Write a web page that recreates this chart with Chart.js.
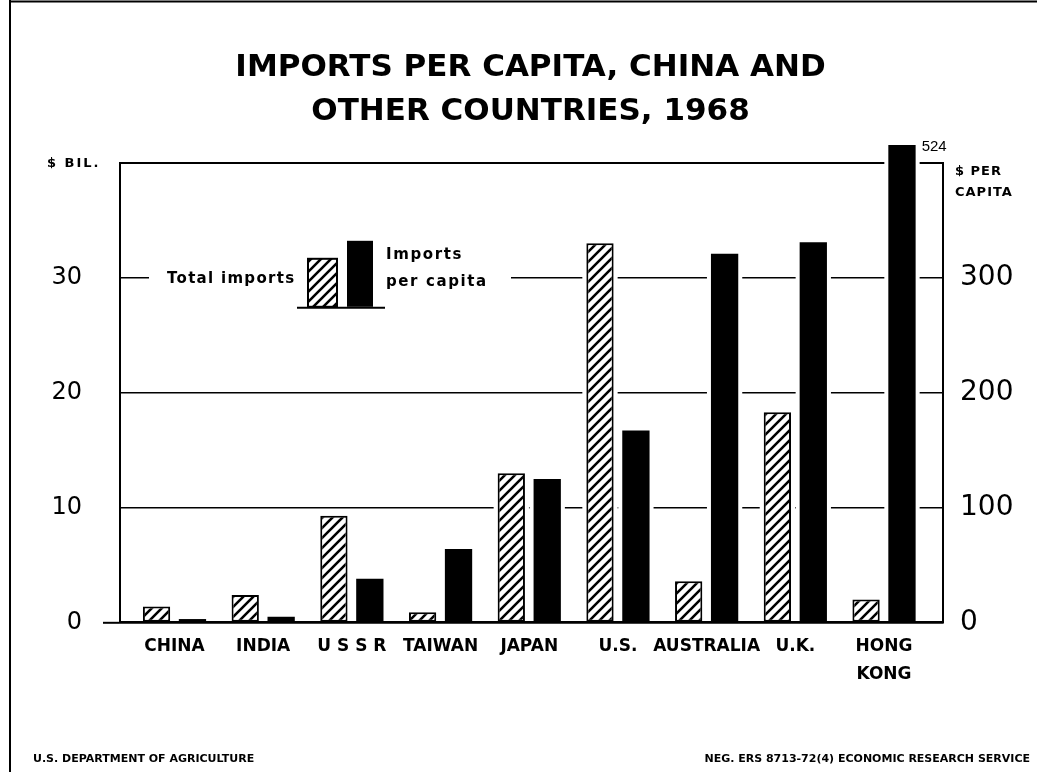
<!DOCTYPE html>
<html>
<head>
<meta charset="utf-8">
<title>Imports per capita, China and other countries, 1968</title>
<script src="https://cdn.jsdelivr.net/npm/chart.js@4.4.1/dist/chart.umd.min.js"></script>
<style>
  html, body { margin: 0; padding: 0; background: #fff; }
  canvas { display: block; }
</style>
</head>
<body>
<canvas id="myChart" width="1037" height="772"></canvas>
<script>

  //////////////////////////
 // DONNÉES DU GRAPHIQUE //
//////////////////////////

const countries = ['CHINA', 'INDIA', 'U S S R', 'TAIWAN', 'JAPAN', 'U.S.', 'AUSTRALIA', 'U.K.', ['HONG', 'KONG']];
const totalImports = [1.4, 2.4, 9.3, 0.9, 13.0, 33.0, 3.6, 18.3, 2.0];   // $ bil.
const importsPerCapita = [3, 5, 38, 64, 125, 167, 321, 331, 524];        // $ per capita
const leftTicks = [0, 10, 20, 30];
const rightTicks = [0, 100, 200, 300];

const FONT = 'DejaVu Sans';


  //////////////////////
 // MOTIF HACHURÉ    //
//////////////////////

const canvas = document.getElementById('myChart');
const ctx = canvas.getContext('2d');

function makeHatch() {
  const c = document.createElement('canvas');
  c.width = 10;
  c.height = 10;
  const g = c.getContext('2d');
  g.fillStyle = '#fff';
  g.fillRect(0, 0, 10, 10);
  g.strokeStyle = '#000';
  g.lineWidth = 2.6;
  g.beginPath();
  g.moveTo(-2, 12); g.lineTo(12, -2);
  g.moveTo(-7, 7); g.lineTo(7, -7);
  g.moveTo(3, 17); g.lineTo(17, 3);
  g.stroke();
  return ctx.createPattern(c, 'repeat');
}
const hatch = makeHatch();


  /////////////////////////
 // PLUGINS (DESSINS)   //
/////////////////////////

// blanc autour des barres : coupe les lignes de grille comme sur l'original
const barGaps = {
  id: 'barGaps',
  beforeDatasetsDraw(chart) {
    const area = chart.chartArea;
    const c = chart.ctx;
    c.save();
    c.fillStyle = '#fff';
    chart.data.datasets.forEach((ds, i) => {
      chart.getDatasetMeta(i).data.forEach(bar => {
        const top = Math.max(bar.y, area.top - 18) - 4;
        c.fillRect(bar.x - bar.width / 2 - 4, top, bar.width + 8, bar.base - 2 - top);
      });
    });
    c.restore();
  }
};

// légende dessinée sur la ligne des 30
const insetLegend = {
  id: 'insetLegend',
  beforeDatasetsDraw(chart) {
    const c = chart.ctx;
    const y30 = chart.scales.y.getPixelForValue(30);
    c.save();
    c.fillStyle = '#fff';
    c.fillRect(149, y30 - 44, 362, 80);

    c.fillStyle = '#000';
    c.font = 'bold 15px "' + FONT + '"';
    c.textBaseline = 'middle';
    c.textAlign = 'left';
    c.letterSpacing = '1.3px';
    c.fillText('Total imports', 167, y30 + 1);
    c.letterSpacing = '1.6px';
    c.fillText('Imports', 386, y30 - 23);
    c.fillText('per capita', 386, y30 + 4);
    c.letterSpacing = '0px';

    // petite barre hachurée
    c.fillStyle = hatch;
    c.fillRect(308, y30 - 19, 29, 48);
    c.strokeStyle = '#000';
    c.lineWidth = 2;
    c.strokeRect(308, y30 - 19, 29, 48);
    // petite barre noire
    c.fillStyle = '#000';
    c.fillRect(347, y30 - 37, 26, 66);
    // socle
    c.beginPath();
    c.moveTo(297, y30 + 30);
    c.lineTo(385, y30 + 30);
    c.stroke();
    c.restore();
  }
};

// textes autour : unités, 524, pied de page, cadre
const extraTexts = {
  id: 'extraTexts',
  afterDraw(chart) {
    const c = chart.ctx;
    const area = chart.chartArea;
    c.save();
    c.fillStyle = '#000';
    c.strokeStyle = '#000';
    c.textBaseline = 'middle';
    c.textAlign = 'left';

    // cadre de la feuille
    c.lineWidth = 2;
    c.beginPath();
    c.moveTo(10, 0);
    c.lineTo(10, 772);
    c.moveTo(10, 1.5);
    c.lineTo(1037, 1.5);
    c.stroke();

    // unités
    c.font = 'bold 13px "' + FONT + '"';
    c.letterSpacing = '2px';
    c.fillText('$ BIL.', 47, 164);
    c.letterSpacing = '1px';
    c.fillText('$ PER', 955, 172);
    c.fillText('CAPITA', 955, 193);
    c.letterSpacing = '0px';

    // valeur hors échelle de Hong Kong
    const hk = chart.getDatasetMeta(1).data[8];
    c.font = '15px "Liberation Sans"';
    c.fillText(String(importsPerCapita[8]), hk.x + hk.width / 2 + 6, area.top - 16);

    // pied de page
    c.font = 'bold 11px "' + FONT + '"';
    c.fillText('U.S. DEPARTMENT OF AGRICULTURE', 33, 759);
    c.textAlign = 'right';
    c.fillText('NEG. ERS 8713-72(4) ECONOMIC RESEARCH SERVICE', 1030, 759);
    c.restore();
  }
};


  ///////////////////////////
 // GRAPHIQUE CHART.JS    //
///////////////////////////

new Chart(ctx, {
  type: 'bar',
  data: {
    datasets: [
      {
        label: 'Total imports',
        data: totalImports.map((v, i) => ({ x: i, y: v })),
        yAxisID: 'y',
        backgroundColor: hatch,
        borderColor: '#000',
        borderWidth: 2,
        borderSkipped: false
      },
      {
        label: 'Imports per capita',
        data: importsPerCapita.map((v, i) => ({ x: i, y: v })),
        yAxisID: 'y2',
        backgroundColor: '#000',
        borderWidth: 0,
        clip: { left: false, top: 18, right: false, bottom: false }
      }
    ]
  },
  options: {
    responsive: false,
    animation: false,
    events: [],
    layout: { padding: { left: 24, right: 0, top: 0, bottom: 0 } },
    datasets: {
      bar: { categoryPercentage: 0.81, barPercentage: 0.76 }
    },
    plugins: {
      legend: { display: false },
      tooltip: { enabled: false },
      title: {
        display: true,
        text: ['IMPORTS PER CAPITA, CHINA AND', 'OTHER COUNTRIES, 1968'],
        color: '#000',
        font: { family: FONT, weight: 'bold', size: 31, lineHeight: 1.45 },
        padding: { top: 45, bottom: 28 }
      }
    },
    scales: {
      x: {
        type: 'linear',
        offset: false,
        min: -0.6145,
        max: 8.665,
        afterFit: scale => { scale.height = 149.5; },
        grid: { display: false, drawTicks: false, offset: false },
        border: { display: true, color: '#000', width: 2.5 },
        ticks: {
          stepSize: 1,
          includeBounds: false,
          autoSkip: false,
          maxRotation: 0,
          padding: 10,
          color: '#000',
          font: { family: FONT, weight: 'bold', size: 17, lineHeight: 1.65 },
          callback: v => (Number.isInteger(v) && countries[v] ? countries[v] : null)
        }
      },
      y: {
        position: 'left',
        min: 0,
        max: 40,
        afterFit: scale => { scale.width = 96; },
        border: { display: true, color: '#000', width: 2 },
        grid: {
          color: '#000',
          lineWidth: c => (c.tick && c.tick.value === 40 ? 2 : 1.6),
          tickLength: 17,
          tickWidth: 2,
          tickColor: c => (c.tick && c.tick.value === 0 ? '#000' : 'rgba(0,0,0,0)')
        },
        ticks: {
          stepSize: 10,
          padding: 21,
          color: '#000',
          font: { family: FONT, size: 24 },
          callback: v => (leftTicks.includes(v) ? String(v) : '')
        }
      },
      y2: {
        position: 'right',
        min: 0,
        max: 400,
        afterFit: scale => { scale.width = 94; },
        border: { display: true, color: '#000', width: 2 },
        grid: { drawOnChartArea: false, drawTicks: false },
        ticks: {
          stepSize: 100,
          padding: 17,
          color: '#000',
          font: { family: FONT, size: 28 },
          callback: v => (rightTicks.includes(v) ? String(v) : null)
        }
      }
    }
  },
  plugins: [barGaps, insetLegend, extraTexts]
});

</script>
</body>
</html>
